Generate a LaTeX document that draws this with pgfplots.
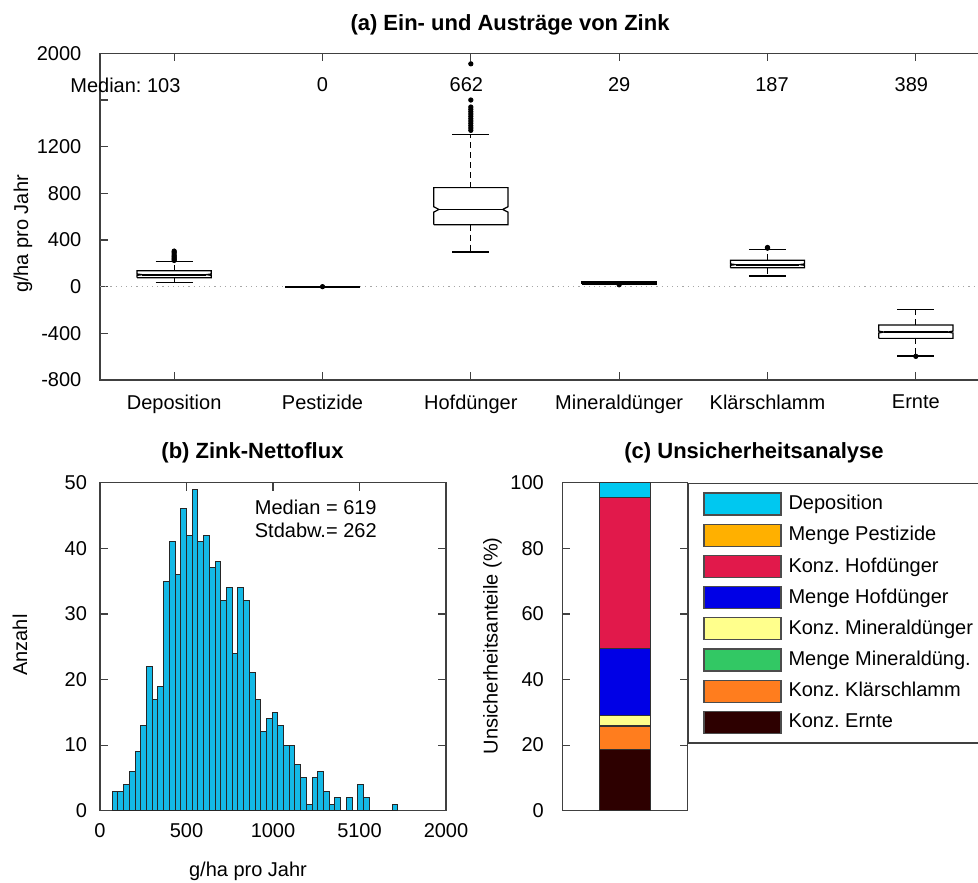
\documentclass[border=0pt]{standalone}
\usepackage{fontspec}
\setmainfont{Liberation Sans}
\usepackage{pgfplots}
\usepackage{pgfplotstable}
\pgfplotsset{compat=1.18}
\frenchspacing
\definecolor{axgray}{RGB}{64,64,64}
\definecolor{histblue}{RGB}{20,185,230}
\definecolor{cDep}{RGB}{0,200,240}
\definecolor{cPest}{RGB}{255,176,0}
\definecolor{cKHof}{RGB}{225,25,75}
\definecolor{cMHof}{RGB}{0,0,230}
\definecolor{cKMin}{RGB}{255,255,140}
\definecolor{cMMin}{RGB}{50,200,100}
\definecolor{cKKla}{RGB}{255,125,30}
\definecolor{cKErn}{RGB}{45,0,0}
\pgfplotstableread{
x y
71 3
104 3
137 4
170 6
203 9
236 13
269 22
302 17
335 19
368 35
401 41
434 36
467 46
500 42
533 49
566 41
599 42
632 37
665 38
698 32
731 34
764 24
797 34
830 32
863 21
896 17
929 12
962 14
995 15
1028 13
1061 10
1094 10
1127 7
1160 5
1193 1
1226 5
1259 6
1292 3
1325 1
1358 2
1391 0
1424 2
1457 0
1490 4
1523 2
1556 0
1589 0
1622 0
1655 0
1688 1
1721 0
}\histdata
\pgfplotsset{
  every axis/.append style={
    scale only axis,
    axis line style={axgray, line width=0.6pt},
    every tick/.style={axgray, line width=0.6pt},
    tick align=inside,
    major tick length=4pt,
    tick label style={font=\fontsize{10pt}{12pt}\selectfont, text=black},
    /pgf/number format/assume math mode=true,
  },
  bx/.style={black, line width=0.6pt, mark=none},
  wh/.style={black, line width=0.6pt, mark=none, dash pattern=on 3pt off 2pt},
  outl/.style={only marks, mark=*, mark size=1.1pt, black},
  seg/.style={draw=black!80, line width=0.5pt, mark=none,
    legend image code/.code={\draw[##1, draw=black!70, line width=0.6pt] (0pt,-5.5pt) rectangle (38.5pt,5.5pt);}},
}
\begin{document}
\frenchspacing
\begin{tikzpicture}
\useasboundingbox (0pt,0pt) rectangle (489pt,-441pt);
\clip (0pt,0pt) rectangle (489pt,-441pt);
% ---------------- panel (a)
\begin{axis}[
  at={(50pt,-190pt)}, anchor=south west,
  width=445pt, height=163.33pt,
  xmin=-0.5, xmax=5.5, ymin=-800, ymax=2000,
  xtick={0,1,2,3,4,5},
  xticklabels={Deposition,Pestizide,Hofdünger,Mineraldünger,Klärschlamm,Ernte},
  ytick={-800,-400,0,400,800,1200,1600,2000},
  yticklabels={-800,-400,0,400,800,1200,,2000},
  xtick pos=both, ytick pos=left,
  yticklabel style={xshift=-5.8pt},
  xticklabel style={yshift=-4pt},
  clip=false,
]
\addplot[gray!70, dotted, line width=0.6pt] coordinates {(-0.5,0) (5.5,0)};
% Deposition
\addplot[bx] coordinates {(-0.25,77) (-0.25,97) (-0.215,103) (-0.25,109) (-0.25,137) (0.25,137) (0.25,109) (0.215,103) (0.25,97) (0.25,77) (-0.25,77)};
\addplot[bx, line width=1pt] coordinates {(-0.215,103) (0.215,103)};
\addplot[wh] coordinates {(0,137) (0,214)};
\addplot[wh] coordinates {(0,77) (0,37)};
\addplot[bx] coordinates {(-0.125,214) (0.125,214)};
\addplot[bx] coordinates {(-0.125,37) (0.125,37)};
\addplot[outl] coordinates {(0,225) (0,235) (0,245) (0,255) (0,265) (0,280) (0,295) (0,305)};
% Pestizide
\addplot[bx, line width=1pt] coordinates {(0.75,0) (1.25,0)};
\addplot[outl] coordinates {(1,0)};
% Hofduenger
\addplot[bx] coordinates {(1.75,531) (1.75,639) (1.785,662) (1.75,685) (1.75,849) (2.25,849) (2.25,685) (2.215,662) (2.25,639) (2.25,531) (1.75,531)};
\addplot[bx] coordinates {(1.785,662) (2.215,662)};
\addplot[wh] coordinates {(2,849) (2,1303)};
\addplot[wh] coordinates {(2,531) (2,297)};
\addplot[bx] coordinates {(1.875,1303) (2.125,1303)};
\addplot[bx] coordinates {(1.875,297) (2.125,297)};
\addplot[outl] coordinates {(2,1340) (2,1360) (2,1380) (2,1400) (2,1420) (2,1440) (2,1460) (2,1480) (2,1500) (2,1520) (2,1540) (2,1600) (2,1910)};
% Mineralduenger
\addplot[bx, line width=1.2pt] coordinates {(2.75,27) (2.75,40) (3.25,40) (3.25,27) (2.75,27)};
\addplot[bx, line width=1pt] coordinates {(2.75,29) (3.25,29)};
\addplot[outl] coordinates {(3,16)};
% Klaerschlamm
\addplot[bx] coordinates {(3.75,163) (3.75,183) (3.785,189) (3.75,195) (3.75,226) (4.25,226) (4.25,195) (4.215,189) (4.25,183) (4.25,163) (3.75,163)};
\addplot[bx, line width=1pt] coordinates {(3.785,189) (4.215,189)};
\addplot[wh] coordinates {(4,226) (4,320)};
\addplot[wh] coordinates {(4,163) (4,91)};
\addplot[bx] coordinates {(3.875,320) (4.125,320)};
\addplot[bx] coordinates {(3.875,91) (4.125,91)};
\addplot[outl] coordinates {(4,330) (4,336)};
% Ernte
\addplot[bx] coordinates {(4.75,-443) (4.75,-397) (4.785,-389) (4.75,-381) (4.75,-329) (5.25,-329) (5.25,-381) (5.215,-389) (5.25,-397) (5.25,-443) (4.75,-443)};
\addplot[bx, line width=1pt] coordinates {(4.785,-389) (5.215,-389)};
\addplot[wh] coordinates {(5,-329) (5,-197)};
\addplot[wh] coordinates {(5,-443) (5,-594)};
\addplot[bx] coordinates {(4.875,-197) (5.125,-197)};
\addplot[bx] coordinates {(4.875,-594) (5.125,-594)};
\addplot[outl] coordinates {(5,-597)};
% median labels
\node[anchor=east, inner sep=0pt] at (axis cs:0.045,1728) {Median: 103};
\node at (axis cs:1,1728) {0};
\node at (axis cs:1.97,1728) {662};
\node at (axis cs:3,1728) {29};
\node at (axis cs:4.03,1728) {187};
\node at (axis cs:4.97,1728) {389};
\end{axis}
% ---------------- panel (b)
\begin{axis}[
  at={(50pt,-405.35pt)}, anchor=south west,
  width=173pt, height=164pt,
  xmin=0, xmax=2000, ymin=0, ymax=50,
  xtick={0,500,1000,1500,2000}, xticklabels={0,500,1000,5100,2000},
  ytick={0,10,20,30,40,50}, yticklabels={0,10,20,30,40,50},
  xtick pos=both, ytick pos=both,
  yticklabel style={xshift=-3pt},
  xticklabel style={yshift=-3pt},
]
\addplot[ybar interval, fill=histblue, draw=black!85, line width=0.5pt] table[x=x, y=y] {\histdata};
\node[anchor=west, inner sep=0pt] at (axis cs:893,46.3) {Median = 619};
\node[anchor=west, inner sep=0pt] at (axis cs:893,42.8) {Stdabw.= 262};
\end{axis}
% ---------------- panel (c)
\begin{axis}[
  at={(281.15pt,-405.35pt)}, anchor=south west,
  width=62.7pt, height=164pt,
  xmin=-1.25, xmax=1.25, ymin=0, ymax=100,
  xtick=\empty, ytick={0,20,40,60,80,100}, yticklabels={0,20,40,60,80,100},
  ytick pos=both,
  yticklabel style={xshift=-5.7pt},
  reverse legend,
  legend cell align=left,
  legend style={at={(1,1)}, anchor=north west, draw=axgray, line width=0.6pt,
    font=\fontsize{10pt}{12pt}\selectfont\frenchspacing,
    inner xsep=7.5pt, inner ysep=4.5pt, row sep=4pt,
    nodes={inner sep=0pt},
    /tikz/every odd column/.append style={column sep=3.5pt}},
]
% stacked segments: cumulative bounds 0, 18.7, 25.8, 26.1, 29.1, 49.5, 95.4, 95.4, 100
\addplot[seg, fill=cKErn] coordinates {(-0.5,0) (0.5,0) (0.5,18.7) (-0.5,18.7) (-0.5,0)};
\addplot[seg, fill=cKKla] coordinates {(-0.5,18.7) (0.5,18.7) (0.5,25.8) (-0.5,25.8) (-0.5,18.7)};
\addplot[seg, fill=cMMin] coordinates {(-0.5,25.8) (0.5,25.8) (0.5,26.1) (-0.5,26.1) (-0.5,25.8)};
\addplot[seg, fill=cKMin] coordinates {(-0.5,26.1) (0.5,26.1) (0.5,29.1) (-0.5,29.1) (-0.5,26.1)};
\addplot[seg, fill=cMHof] coordinates {(-0.5,29.1) (0.5,29.1) (0.5,49.5) (-0.5,49.5) (-0.5,29.1)};
\addplot[seg, fill=cKHof] coordinates {(-0.5,49.5) (0.5,49.5) (0.5,95.4) (-0.5,95.4) (-0.5,49.5)};
\addplot[seg, fill=cPest] coordinates {(-0.5,95.4) (0.5,95.4) (0.5,95.4) (-0.5,95.4) (-0.5,95.4)};
\addplot[seg, fill=cDep] coordinates {(-0.5,95.4) (0.5,95.4) (0.5,100) (-0.5,100) (-0.5,95.4)};
\legend{Konz. Ernte, Konz. Klärschlamm, Menge Mineraldüng., Konz. Mineraldünger, Menge Hofdünger, Konz. Hofdünger, Menge Pestizide, Deposition}
\end{axis}
% ---------------- titles and labels
\node[font=\fontsize{11pt}{13pt}\selectfont\bfseries] at (255pt,-12.5pt) {(a) Ein- und Austräge von Zink};
\node[font=\fontsize{11pt}{13pt}\selectfont\bfseries] at (126.25pt,-226.35pt) {(b) Zink-Nettoflux};
\node[font=\fontsize{11pt}{13pt}\selectfont\bfseries] at (377pt,-226.5pt) {(c) Unsicherheitsanalyse};
\node[rotate=90] at (11.5pt,-117pt) {g/ha pro Jahr};
\node[rotate=90] at (10pt,-322.5pt) {Anzahl};
\node[rotate=90] at (246.25pt,-322.9pt) {Unsicherheitsanteile (\%)};
\node at (124pt,-435.85pt) {g/ha pro Jahr};
\end{tikzpicture}
\end{document}
